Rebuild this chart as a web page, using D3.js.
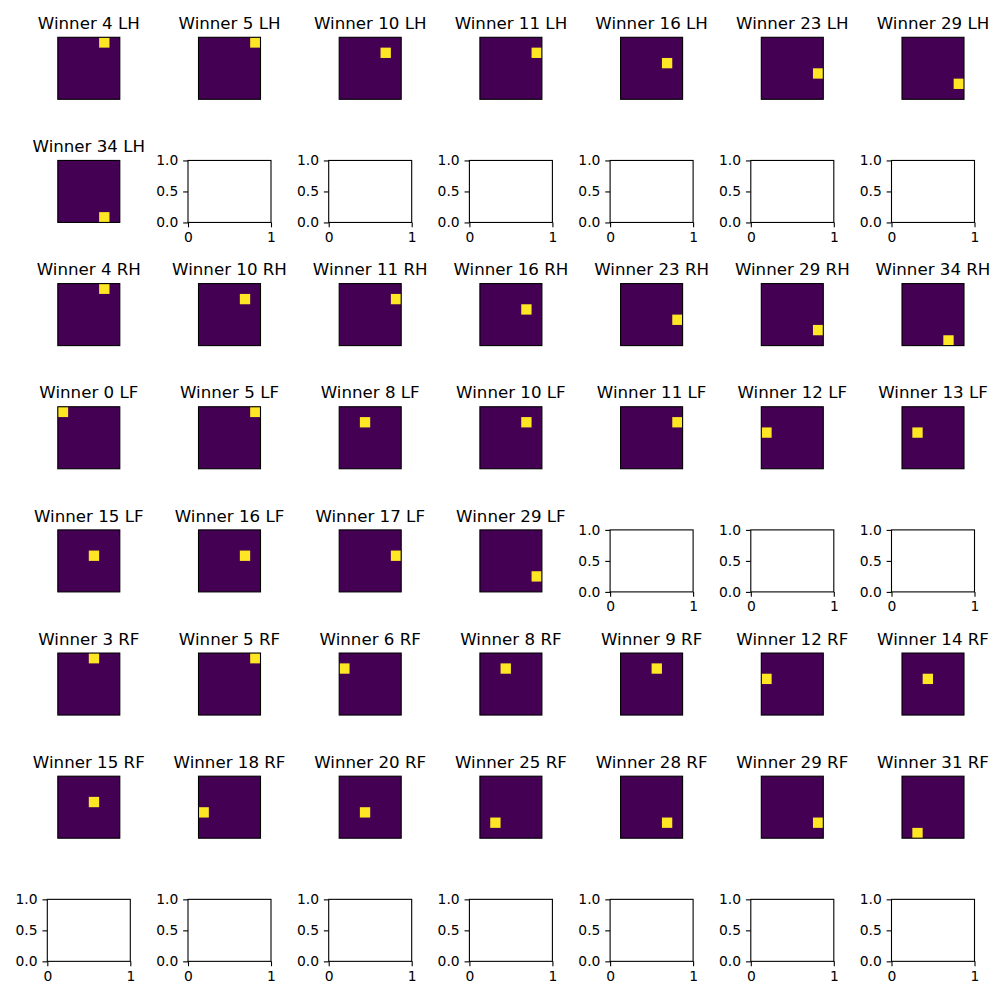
<!DOCTYPE html>
<html><head><meta charset="utf-8">
<script src="https://cdn.jsdelivr.net/npm/d3@7"></script>
<style>body{margin:0;background:#fff}svg{display:block}</style>
</head><body>
<script>
// Data
const groups = ["LH", "RH", "LF", "RF"];
const winnersLH = [4, 5, 10, 11, 16, 23, 29, 34];
const winnersRH = [4, 10, 11, 16, 23, 29, 34];
const winnersLF = [0, 5, 8, 10, 11, 12, 13, 15, 16, 17, 29];
const winnersRF = [3, 5, 6, 8, 9, 12, 14, 15, 18, 20, 25, 28, 29, 31];
const winnersByGroup = {LH: winnersLH, RH: winnersRH, LF: winnersLF, RF: winnersRF};
const gridSide = 6;
const nCols = 7, nRows = 8;
const emptyYTicks = [0, 0.5, 1.0];
const emptyXTicks = [0, 1];

// Build slot list
const slots = [];
groups.forEach(g => {
  const ws = winnersByGroup[g];
  ws.forEach(w => slots.push({group: g, winner: w}));
  while (slots.length % nCols !== 0) slots.push(null);
});
while (slots.length < nCols * nRows) slots.push(null);

const W = 1000, H = 1000;
const svg = d3.select("body").append("svg").attr("width", W).attr("height", H)
  .style("font-family", "'DejaVu Sans', sans-serif");

const colLeft = 47.3, colStep = 140.7, boxW = 83;
const rowTop = 37.3, rowStep = 123.15, boxH = 62;
const lw = 1.1;
const color = d3.scaleSequential(d3.interpolateViridis).domain([0, 1]);

slots.forEach((s, i) => {
  const r = Math.floor(i / nCols), c = i % nCols;
  const x0 = colLeft + c * colStep, y0 = rowTop + r * rowStep;
  const g = svg.append("g");
  if (s) {
    const side = Math.min(boxW, boxH);
    const ix = x0 + (boxW - side) / 2, iy = y0 + (boxH - side) / 2;
    const xs = d3.scaleBand().domain(d3.range(gridSide)).range([ix, ix + side]);
    const ys = d3.scaleBand().domain(d3.range(gridSide)).range([iy, iy + side]);
    const cells = d3.range(gridSide * gridSide).map(k => ({
      row: Math.floor(k / gridSide), col: k % gridSide, v: k === s.winner ? 1 : 0
    }));
    g.append("rect").attr("x", ix).attr("y", iy).attr("width", side).attr("height", side)
      .attr("fill", color(0));
    g.selectAll("rect.cell").data(cells.filter(d => d.v > 0)).join("rect")
      .attr("class", "cell")
      .attr("x", d => xs(d.col)).attr("y", d => ys(d.row))
      .attr("width", xs.bandwidth()).attr("height", ys.bandwidth())
      .attr("fill", d => color(d.v));
    g.append("rect").attr("x", ix).attr("y", iy).attr("width", side).attr("height", side)
      .attr("fill", "none").attr("stroke", "#000").attr("stroke-width", lw);
    g.append("text").attr("x", ix + side / 2).attr("y", iy - 8.3)
      .attr("text-anchor", "middle").attr("font-size", "16.67px").attr("fill", "#000")
      .text(`Winner ${s.winner} ${s.group}`);
  } else {
    const xs = d3.scaleLinear().domain([0, 1]).range([x0, x0 + boxW]);
    const ys = d3.scaleLinear().domain([0, 1]).range([y0 + boxH, y0]);
    const ax = g.append("g").attr("transform", `translate(0,${y0 + boxH})`)
      .call(d3.axisBottom(xs).tickValues(emptyXTicks).tickFormat(d3.format("d")).tickSize(4.86).tickPadding(4.86));
    const ay = g.append("g").attr("transform", `translate(${x0},0)`)
      .call(d3.axisLeft(ys).tickValues(emptyYTicks).tickFormat(d3.format(".1f")).tickSize(4.86).tickPadding(4.86));
    [ax, ay].forEach(a => {
      a.select(".domain").remove();
      a.selectAll("line").attr("stroke", "#000").attr("stroke-width", lw);
      a.selectAll("text").attr("font-size", "13.89px").attr("fill", "#000")
        .style("font-family", "'DejaVu Sans', sans-serif");
    });
    g.append("rect").attr("x", x0).attr("y", y0).attr("width", boxW).attr("height", boxH)
      .attr("fill", "none").attr("stroke", "#000").attr("stroke-width", lw);
  }
});
</script>
</body></html>
